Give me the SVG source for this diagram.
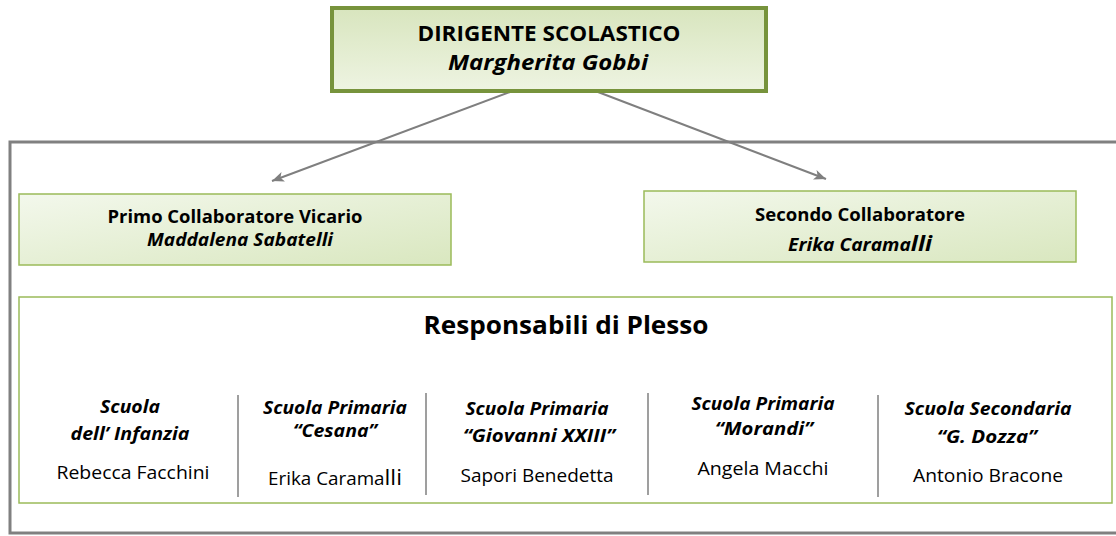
<svg xmlns="http://www.w3.org/2000/svg" width="1116" height="536" viewBox="0 0 1116 536">
  <style>
    text { font-family: "Open Sans", "Noto Sans", "Liberation Sans", sans-serif; fill: #000; text-anchor: middle; }
    .b { font-weight: bold; }
    .bi { font-weight: bold; font-style: italic; }
    .reg { font-weight: normal; }
    .coll { stroke: #9bbb59; stroke-width: 1.5; fill: url(#gCol); }
    .divider { stroke: #7f7f7f; stroke-width: 1.5; }
    .conn { stroke: #7f7f7f; stroke-width: 2; fill: none; marker-end: url(#arrow); }
  </style>
  <defs>
    <linearGradient id="gTop" x1="0" y1="0" x2="0" y2="1">
      <stop offset="0" stop-color="#d8e5be"/>
      <stop offset="1" stop-color="#eef4e2"/>
    </linearGradient>
    <linearGradient id="gCol" x1="0" y1="0" x2="1" y2="1">
      <stop offset="0" stop-color="#f3f8ec"/>
      <stop offset="1" stop-color="#d9e7bf"/>
    </linearGradient>
    <marker id="arrow" markerUnits="userSpaceOnUse" markerWidth="14" markerHeight="12" refX="12" refY="5" orient="auto">
      <path d="M0,0 L12,5 L0,10 L3,5 z" fill="#7f7f7f"/>
    </marker>
  </defs>

  <rect id="frame" x="10" y="142" width="1120" height="391" fill="none" stroke="#808080" stroke-width="3"/>

  <g id="connectors">
    <line class="conn" x1="510" y1="92" x2="272" y2="181"/>
    <line class="conn" x1="598" y1="92" x2="826" y2="179"/>
  </g>

  <g id="dirigente">
    <rect x="332" y="8" width="434" height="83" fill="url(#gTop)" stroke="#77933c" stroke-width="4"/>
    <text class="b" x="549" y="41" font-size="20.5" textLength="263" lengthAdjust="spacingAndGlyphs">DIRIGENTE SCOLASTICO</text>
    <text class="bi" x="548" y="70" font-size="20.5" textLength="200" lengthAdjust="spacingAndGlyphs">Margherita Gobbi</text>
  </g>

  <g id="primo">
    <rect class="coll" x="19" y="194" width="432" height="71"/>
    <text class="b" x="235" y="223" font-size="17" textLength="255" lengthAdjust="spacingAndGlyphs">Primo Collaboratore Vicario</text>
    <text class="bi" x="240" y="246" font-size="17" textLength="186" lengthAdjust="spacingAndGlyphs">Maddalena Sabatelli</text>
  </g>

  <g id="secondo">
    <rect class="coll" x="644" y="191" width="432" height="71"/>
    <text class="b" x="860" y="221" font-size="17" textLength="210" lengthAdjust="spacingAndGlyphs">Secondo Collaboratore</text>
    <text class="bi" x="860" y="251" font-size="17" textLength="144" lengthAdjust="spacingAndGlyphs">Erika Carama<tspan font-size="21">lli</tspan></text>
  </g>

  <g id="responsabili">
    <rect x="19" y="297" width="1093" height="206" fill="#fff" stroke="#9bbb59" stroke-width="1.5"/>
    <text class="b" x="566" y="334" font-size="25.5" textLength="285" lengthAdjust="spacingAndGlyphs">Responsabili di Plesso</text>
    <line class="divider" x1="238" y1="395" x2="238" y2="497"/>
    <line class="divider" x1="426" y1="393" x2="426" y2="495"/>
    <line class="divider" x1="648" y1="393" x2="648" y2="495"/>
    <line class="divider" x1="878" y1="395" x2="878" y2="497"/>
  </g>

  <g id="plesso-infanzia">
    <text class="bi" x="130" y="413" font-size="17.5" textLength="60" lengthAdjust="spacingAndGlyphs">Scuola</text>
    <text class="bi" x="130" y="440" font-size="17.5" textLength="119" lengthAdjust="spacingAndGlyphs">dell’ Infanzia</text>
    <text class="reg" x="133" y="479" font-size="18" textLength="153" lengthAdjust="spacingAndGlyphs">Rebecca Facchini</text>
  </g>
  <g id="plesso-cesana">
    <text class="bi" x="335" y="414" font-size="17.5" textLength="144" lengthAdjust="spacingAndGlyphs">Scuola Primaria</text>
    <text class="bi" x="335" y="437" font-size="17.5" textLength="84" lengthAdjust="spacingAndGlyphs">“Cesana”</text>
    <text class="reg" x="335" y="485" font-size="18" textLength="134" lengthAdjust="spacingAndGlyphs">Erika Carama<tspan font-size="22">lli</tspan></text>
  </g>
  <g id="plesso-giovanni">
    <text class="bi" x="537" y="415" font-size="17.5" textLength="143" lengthAdjust="spacingAndGlyphs">Scuola Primaria</text>
    <text class="bi" x="539" y="442" font-size="17.5" textLength="152" lengthAdjust="spacingAndGlyphs">“Giovanni XXIII”</text>
    <text class="reg" x="537" y="482" font-size="18" textLength="153" lengthAdjust="spacingAndGlyphs">Sapori Benedetta</text>
  </g>
  <g id="plesso-morandi">
    <text class="bi" x="763" y="410" font-size="17.5" textLength="143" lengthAdjust="spacingAndGlyphs">Scuola Primaria</text>
    <text class="bi" x="764" y="435" font-size="17.5" textLength="98" lengthAdjust="spacingAndGlyphs">“Morandi”</text>
    <text class="reg" x="763" y="475" font-size="18" textLength="131" lengthAdjust="spacingAndGlyphs">Angela Macchi</text>
  </g>
  <g id="plesso-dozza">
    <text class="bi" x="988" y="415" font-size="17.5" textLength="167" lengthAdjust="spacingAndGlyphs">Scuola Secondaria</text>
    <text class="bi" x="987" y="443" font-size="17.5" textLength="100" lengthAdjust="spacingAndGlyphs">“G. Dozza”</text>
    <text class="reg" x="988" y="482" font-size="18" textLength="150" lengthAdjust="spacingAndGlyphs">Antonio Bracone</text>
  </g>
</svg>
